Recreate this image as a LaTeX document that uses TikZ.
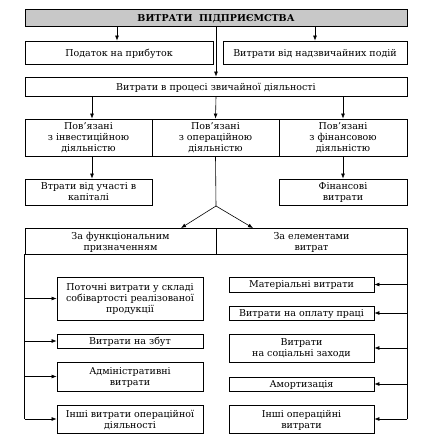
\documentclass[tikz,border=0pt]{standalone}
\usepackage{fontspec}
\setmainfont{DejaVu Serif}
\usetikzlibrary{arrows.meta,calc}
\definecolor{hdr}{RGB}{200,200,200}
\tikzset{
  bx/.style={draw, line width=0.9pt, inner sep=0pt, align=center, text depth=0pt,
    font=\fontsize{9.5}{11}\selectfont},
  arr/.style={line width=0.6pt, -{Latex[length=5pt,width=4pt]}},
  ln/.style={line width=0.6pt},
}
\newcommand{\bxat}[6]{% name, x1, y1, x2, y2, text
  \node[bx, minimum width={#4-#2}, minimum height={#5-#3}] (#1) at ({(#2+#4)/2},{(#3+#5)/2}) {#6};}
\begin{document}
\begin{tikzpicture}[x=1pt,y=-1pt]
\useasboundingbox (0,0) rectangle (436,442);
% top
\node[bx, fill=hdr, minimum width=382, minimum height=17, font=\fontsize{9.5}{11}\selectfont\bfseries] (top) at (216,17.5) {ВИТРАТИ\ \ ПІДПРИЄМСТВА};
\bxat{pod}{25}{41}{213}{64}{Податок на прибуток}
\bxat{nadz}{223}{41}{407}{64}{Витрати від надзвичайних подій}
\bxat{zv}{25}{77}{407}{96}{Витрати в процесі звичайної діяльності}
\bxat{inv}{25}{119}{152}{156}{Пов'язані\\з інвестиційною\\діяльністю}
\bxat{op}{152}{119}{279}{156}{Пов'язані\\з операційною\\діяльністю}
\bxat{fin}{279}{119}{407}{156}{Пов'язані\\з фінансовою\\діяльністю}
\bxat{vtr}{25}{179}{152}{205}{Втрати від участі в\\капіталі}
\bxat{finv}{279}{179}{407}{205}{Фінансові\\витрати}
\bxat{func}{25}{228}{216}{254}{За функціональним\\призначенням}
\bxat{elem}{216}{228}{407}{254}{За елементами\\витрат}
% left column
\bxat{pot}{57}{277}{203}{320}{Поточні витрати у складі\\собівартості реалізованої\\продукції}
\bxat{zbut}{57}{334}{203}{348}{Витрати на збут}
\bxat{adm}{57}{362}{203}{391}{Адміністративні\\витрати}
\bxat{insh}{57}{405}{203}{433}{Інші витрати операційної\\діяльності}
% right column
\bxat{mat}{229}{277}{374}{292}{Матеріальні витрати}
\bxat{opl}{229}{306}{374}{320}{Витрати на оплату праці}
\bxat{soc}{229}{334}{374}{362}{Витрати\\на соціальні заходи}
\bxat{am}{229}{377}{374}{391}{Амортизація}
\bxat{insho}{229}{405}{374}{433}{Інші операційні\\витрати}
% connectors
\coordinate (pa) at ([xshift=-2pt]pod.north);
\coordinate (na) at (nadz.north);
\coordinate (ia) at ([xshift=3.5pt]inv.north);
\draw[arr] (pa |- top.south) -- (pa);
\draw[arr] (na |- top.south) -- (na);
\draw[arr] (top.south) -- (zv.north);
\draw[arr] (ia |- zv.south) -- (ia);
\draw[arr] (zv.south) -- (op.north);
\draw[arr] (zv.south -| fin.north) -- (fin.north);
\draw[arr] (ia |- inv.south) -- (ia |- vtr.north);
\draw[arr] (fin.south) -- (finv.north);
\coordinate (sp) at (216,206);
\draw[ln] (op.south) -- (sp);
\draw[arr] (sp) -- (181,228);
\draw[arr] (sp) -- (253,228);
% left bracket
\coordinate (lt) at (func.south west);
\draw[ln] (lt) -- (lt |- insh.west);
\foreach \n in {pot,zbut,adm,insh} \draw[arr] (lt |- \n.west) -- (\n.west);
% right bracket
\coordinate (rt) at (elem.south east);
\draw[ln] (rt) -- (rt |- insho.east);
\foreach \n in {mat,opl,soc,am,insho} \draw[arr] (rt |- \n.east) -- (\n.east);
\end{tikzpicture}
\end{document}
